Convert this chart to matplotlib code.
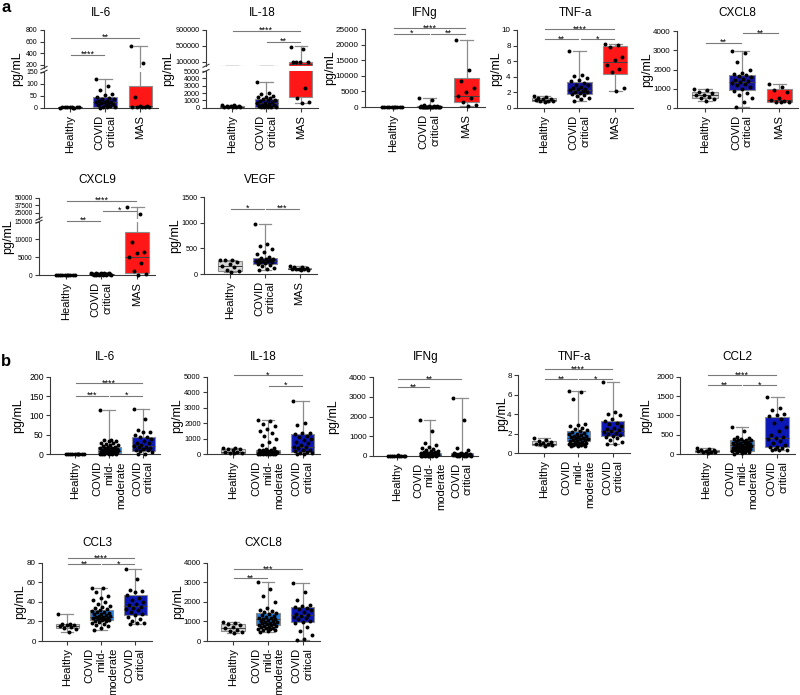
import matplotlib
matplotlib.use('Agg')
import matplotlib.pyplot as plt
from matplotlib.lines import Line2D
from matplotlib.transforms import blended_transform_factory

plt.rcParams['font.family'] = ['Liberation Sans', 'DejaVu Sans']

# ---------------- data ----------------
LABELS_A = ['Healthy', 'COVID\ncritical', 'MAS']
LABELS_B = ['Healthy', 'COVID\nmild-\nmoderate', 'COVID\ncritical']

# box stats: [min, q1, median, q3, max] per group
A_IL6_BOX = [[0.3, 0.7, 1.0, 1.3, 2.0], [0.5, 3, 22, 45, 118], [3, 4, 7, 92, 520]]
A_IL6_PTS = [[0.5, 0.8, 1, 1, 1.2, 1.5, 0.7, 0.9, 1.1, 2],
             [118, 92, 75, 58, 55, 45, 40, 38, 35, 30, 28, 25, 24, 22, 20, 18, 15, 12, 10, 8, 5, 3, 2, 0.5],
             [520, 230, 45, 8, 6, 5, 5, 4, 4, 3]]

A_IL18_BOX = [[50, 100, 150, 250, 350], [30, 60, 600, 1250, 3500], [600, 1500, 45000, 108000, 490000]]
A_IL18_PTS = [[350, 300, 250, 200, 180, 150, 120, 100, 80, 50],
              [3500, 2000, 1900, 1600, 1500, 1400, 1300, 1200, 1100, 1000, 900, 800, 700, 600, 500, 400, 300,
               250, 200, 150, 100, 80, 50, 30],
              [480000, 420000, 95000, 92000, 90000, 88000, 2700, 1300, 800, 600]]

A_IFNG_BOX = [[0, 5, 10, 20, 50], [0, 20, 80, 250, 3000], [300, 1700, 3400, 9200, 21500]]
A_IFNG_PTS = [[0, 5, 8, 10, 12, 15, 20, 25, 30, 40],
              [3000, 2200, 600, 400, 300, 250, 200, 150, 120, 100, 90, 80, 70, 60, 50, 40, 30, 20, 15, 10, 8, 5, 3, 1],
              [21500, 11800, 8300, 6200, 4800, 3600, 2900, 1700, 600, 300]]

A_TNF_BOX = [[0.8, 0.9, 1.05, 1.25, 1.5], [0.9, 1.8, 2.35, 3.3, 7.35], [2.2, 4.4, 5.9, 7.9, 8.2]]
A_TNF_PTS = [[1.5, 1.4, 1.3, 1.2, 1.1, 1.0, 0.95, 0.9, 0.85, 0.8],
             [7.35, 4.2, 4.1, 3.9, 3.6, 3.4, 3.2, 3.0, 2.9, 2.7, 2.6, 2.5, 2.4, 2.3, 2.2, 2.1, 2.0, 1.9, 1.8, 1.7,
              1.5, 1.3, 1.1, 0.9],
             [8.2, 8.1, 7.8, 6.6, 6.2, 5.5, 5.0, 4.6, 2.6, 2.2]]

A_CXCL8_BOX = [[380, 500, 650, 850, 1000], [50, 950, 1350, 1700, 2950], [300, 330, 400, 970, 1250]]
A_CXCL8_PTS = [[1000, 950, 850, 800, 700, 650, 550, 500, 450, 380],
               [2950, 2850, 2400, 2000, 1800, 1750, 1700, 1650, 1600, 1500, 1450, 1400, 1350, 1300, 1250, 1200,
                1100, 1000, 900, 800, 700, 500, 300, 50],
               [1250, 1100, 950, 850, 500, 400, 350, 330, 320, 300]]

A_CXCL9_BOX = [[10, 30, 50, 80, 100], [40, 150, 250, 420, 600], [100, 700, 5200, 12200, 35000]]
A_CXCL9_PTS = [[10, 20, 30, 40, 50, 60, 70, 80, 90, 100],
               [600, 550, 500, 480, 450, 420, 400, 380, 350, 330, 300, 280, 260, 240, 220, 200, 180, 160, 140,
                120, 100, 80, 60, 40],
               [35000, 22000, 9400, 6500, 6300, 5200, 3300, 1000, 400, 100]]

A_VEGF_BOX = [[30, 60, 160, 260, 280], [70, 200, 260, 320, 970], [80, 90, 100, 120, 160]]
A_VEGF_PTS = [[280, 270, 265, 240, 200, 160, 130, 80, 50, 30],
              [970, 580, 540, 480, 420, 380, 330, 310, 300, 290, 280, 270, 260, 250, 250, 240, 230, 220, 200,
               180, 150, 120, 100, 70],
              [160, 140, 130, 110, 100, 100, 95, 90, 85, 80]]

B_IL6_BOX = [[0, 0.4, 0.9, 1.5, 2], [0, 3, 8, 18, 115], [0, 9, 22, 45, 118]]
B_IL6_PTS = [[0, 0.3, 0.5, 0.7, 1, 1, 1.2, 1.5, 1.8, 2],
             [115, 38, 36, 35, 33, 30, 28, 27, 25, 23, 22, 20, 18, 17, 16, 15, 14, 13, 12, 11, 10, 10, 9, 8, 8,
              7, 6, 6, 5, 5, 4, 4, 3, 3, 2, 2, 1, 1, 0.5, 0],
             [118, 90, 62, 58, 57, 50, 45, 44, 40, 35, 30, 28, 25, 22, 20, 18, 16, 14, 12, 10, 8, 5, 2, 0]]

B_IL18_BOX = [[80, 100, 150, 330, 400], [5, 40, 130, 270, 2200], [20, 120, 480, 1330, 3450]]
B_IL18_PTS = [[400, 380, 350, 330, 300, 150, 120, 100, 90, 80],
              [2200, 2150, 1950, 1800, 1650, 1500, 1350, 1200, 1000, 800, 600, 420, 350, 300, 280, 260, 240,
               220, 200, 180, 160, 150, 140, 130, 120, 110, 100, 90, 80, 70, 60, 55, 50, 45, 40, 30, 25, 20, 10, 5],
              [3450, 2000, 1900, 1400, 1350, 1300, 1200, 1100, 1000, 900, 800, 700, 600, 500, 450, 400, 300,
               250, 200, 150, 100, 80, 50, 20]]

B_IFNG_BOX = [[0, 2, 4, 8, 12], [0, 8, 50, 150, 1800], [0, 10, 55, 130, 2950]]
B_IFNG_PTS = [[0, 1, 2, 3, 4, 5, 6, 8, 10, 12],
              [1800, 1250, 650, 550, 450, 380, 320, 280, 250, 220, 200, 180, 160, 150, 140, 130, 120, 110, 100,
               90, 80, 70, 60, 55, 50, 45, 40, 35, 30, 25, 20, 15, 12, 10, 8, 5, 3, 2, 1, 0],
              [2950, 1800, 380, 300, 150, 130, 120, 100, 90, 80, 70, 60, 50, 40, 35, 30, 25, 20, 15, 10, 8, 5, 2, 0]]

B_TNF_BOX = [[0.7, 0.85, 1.0, 1.3, 1.55], [0.7, 1.25, 1.6, 2.3, 6.4], [0.9, 1.8, 2.3, 3.3, 7.3]]
B_TNF_PTS = [[1.55, 1.4, 1.3, 1.2, 1.1, 1.0, 0.95, 0.9, 0.8, 0.7],
             [6.4, 6.3, 5.5, 3.0, 2.9, 2.8, 2.6, 2.5, 2.4, 2.3, 2.2, 2.1, 2.0, 2.0, 1.9, 1.8, 1.8, 1.7, 1.7, 1.6,
              1.6, 1.5, 1.5, 1.4, 1.4, 1.3, 1.3, 1.2, 1.2, 1.1, 1.1, 1.0, 1.0, 0.9, 0.9, 0.8, 0.8, 0.75, 0.7, 0.7],
             [7.3, 4.2, 4.0, 3.9, 3.5, 3.3, 3.1, 3.0, 2.8, 2.6, 2.5, 2.4, 2.3, 2.2, 2.1, 2.0, 1.9, 1.8, 1.7, 1.6,
              1.4, 1.2, 1.0, 0.9]]

B_CCL2_BOX = [[30, 50, 75, 100, 150], [20, 90, 230, 365, 700], [100, 200, 420, 970, 1480]]
B_CCL2_PTS = [[150, 130, 110, 100, 90, 80, 70, 60, 50, 30],
              [700, 600, 450, 420, 400, 390, 380, 370, 360, 350, 340, 320, 300, 290, 280, 270, 260, 250, 240,
               230, 220, 210, 200, 190, 180, 170, 160, 150, 140, 130, 120, 110, 100, 90, 80, 70, 60, 50, 40, 20],
              [1480, 1200, 1150, 1050, 1000, 980, 900, 800, 700, 600, 500, 450, 420, 400, 350, 300, 250, 200,
               180, 160, 140, 120, 110, 100]]

B_CCL3_BOX = [[9, 13, 15, 17, 28], [11, 21, 25, 31.5, 54], [17, 27, 36, 46.5, 74]]
B_CCL3_PTS = [[28, 17, 17, 16, 16, 15, 14, 13, 12, 9],
              [54, 54, 50, 46, 44, 42, 40, 38, 36, 35, 34, 33, 32, 31, 30, 30, 29, 28, 28, 27, 26, 26, 25, 25,
               24, 24, 23, 22, 22, 21, 21, 20, 20, 19, 18, 17, 16, 15, 13, 11],
              [74, 63, 52, 51, 50, 47, 44, 42, 40, 38, 37, 35, 34, 33, 32, 30, 28, 27, 25, 22, 20, 18, 18, 17]]

B_CXCL8_BOX = [[400, 500, 650, 850, 950], [450, 815, 1100, 1445, 3000], [50, 985, 1350, 1720, 2950]]
B_CXCL8_PTS = [[950, 900, 850, 800, 700, 650, 550, 500, 450, 400],
               [3000, 2650, 2300, 2000, 1700, 1600, 1550, 1500, 1450, 1400, 1350, 1300, 1250, 1200, 1150, 1100,
                1100, 1050, 1000, 1000, 950, 950, 900, 900, 850, 850, 800, 800, 780, 750, 720, 700, 680, 650,
                620, 600, 580, 550, 500, 450],
               [2950, 2500, 2100, 1850, 1800, 1750, 1700, 1650, 1600, 1500, 1400, 1350, 1300, 1250, 1200, 1100,
                1000, 950, 900, 700, 500, 300, 100, 50]]

# ---------------- style ----------------
GRAY = '#d6d6d6'
NAVY = '#15159e'
RED = '#ff1616'
MID = '#1f80e8'
DARK = '#0c18b6'
COLORS_A = [GRAY, NAVY, RED]
COLORS_B = [GRAY, MID, DARK]
AX_COL = '#3a3a3a'

W, H = 800, 695
fig = plt.figure(figsize=(W / 100, H / 100), dpi=100)


def fx(px):
    return px / W


def fy(py):
    return 1 - py / H


def jitter(n, width=0.56):
    return [(((i * 0.6180339) % 1.0) - 0.5) * width for i in range(n)]


def draw_panel(title, left, right, segs, box, pts, colors, labels, sigs, ylab_px, title_py, tfs=5.8):
    # segs: bottom -> top: (ylo, yhi, top_px, bottom_px, ticks)
    axes = []
    for k, (ylo, yhi, tp, bp, ticks) in enumerate(segs):
        ax = fig.add_axes([fx(left), fy(bp), (right - left) / W, (bp - tp) / H])
        ax.set_facecolor('none')
        stats = [dict(whislo=b[0], q1=b[1], med=b[2], q3=b[3], whishi=b[4], fliers=[]) for b in box]
        art = ax.bxp(stats, positions=[0, 1, 2], widths=0.68, patch_artist=True, showfliers=False,
                     capwidths=0.36,
                     boxprops=dict(edgecolor='#8c8c8c', linewidth=0.8),
                     whiskerprops=dict(color='#8c8c8c', linewidth=0.9),
                     capprops=dict(color='#8c8c8c', linewidth=0.9),
                     medianprops=dict(color='#404040', linewidth=0.7))
        for patch, c in zip(art['boxes'], colors):
            patch.set_facecolor(c)
        for g, vals in enumerate(pts):
            off = jitter(len(vals))
            xs = [g + o for o, v in zip(off, vals) if ylo <= v <= yhi]
            ys = [v for v in vals if ylo <= v <= yhi]
            ax.scatter(xs, ys, s=8, c='black', zorder=4, clip_on=False, linewidths=0)
        ax.set_xlim(-0.75, 2.5)
        ax.set_ylim(ylo, yhi)
        for s in ['top', 'right']:
            ax.spines[s].set_visible(False)
        for s in ['left', 'bottom']:
            ax.spines[s].set_color(AX_COL)
            ax.spines[s].set_linewidth(0.8)
        ax.set_yticks(ticks)
        ax.set_yticklabels([f'{t:g}' for t in ticks])
        ax.tick_params(axis='y', length=3, width=0.8, color=AX_COL, labelsize=tfs, pad=1.5)
        if k == 0:
            ax.set_xticks([0, 1, 2])
            ax.set_xticklabels(labels, rotation=90, fontsize=8, multialignment='right')
            ax.tick_params(axis='x', length=3, width=0.8, color=AX_COL, pad=2)
        else:
            ax.spines['bottom'].set_visible(False)
            ax.set_xticks([])
        axes.append(ax)

    bot_px = segs[0][3]
    top_px = segs[-1][2]
    # broken-axis marks
    if len(segs) > 1:
        for yb in [segs[0][2], segs[1][3]]:
            fig.add_artist(Line2D([fx(left - 3), fx(left + 3)], [fy(yb + 1.5), fy(yb - 1.5)],
                                  color=AX_COL, lw=0.8))
    ax = axes[-1]
    tr = blended_transform_factory(ax.transData, fig.transFigure)
    for i, j, lab, frac in sigs:
        ypx = bot_px - frac * (bot_px - top_px)
        ax.plot([i + 0.03, j - 0.03], [fy(ypx), fy(ypx)], transform=tr, color='#7a7a7a', lw=0.8,
                clip_on=False)
        ax.text((i + j) / 2, fy(ypx + 2.2), lab, transform=tr, ha='center', va='baseline', fontsize=6.5)
    fig.text(fx((left + right) / 2), fy(title_py), title, ha='center', va='center', fontsize=8.5)
    fig.text(fx(ylab_px), fy((bot_px + top_px) / 2), 'pg/mL', rotation=90, ha='center', va='center',
             fontsize=9)


# ---- panel a, row 1 ----
draw_panel('IL-6', 44, 158,
           [(0, 150, 71.7, 107.7, [0, 50, 100, 150]), (150, 800, 30, 67.9, [200, 400, 600, 800])],
           A_IL6_BOX, A_IL6_PTS, COLORS_A, LABELS_A,
           [(0, 2, '**', 0.897), (0, 1, '****', 0.68)], 17.5, 13, tfs=5)
draw_panel('IL-18', 206, 318,
           [(0, 5000, 71, 107.7, [0, 1000, 2000, 3000, 4000, 5000]),
            (5000, 900000, 30, 65.8, [100000, 500000, 900000])],
           A_IL18_BOX, A_IL18_PTS, COLORS_A, LABELS_A,
           [(0, 2, '****', 0.987), (1, 2, '**', 0.85)], 168.5, 13, tfs=5.2)
draw_panel('IFNg', 365, 485, [(0, 25000, 29, 107, [0, 5000, 10000, 15000, 20000, 25000])],
           A_IFNG_BOX, A_IFNG_PTS, COLORS_A, LABELS_A,
           [(0, 2, '****', 1.01), (0, 1, '*', 0.94), (1, 2, '**', 0.94)], 330, 13, tfs=5.9)
draw_panel('TNF-a', 517, 633, [(0, 10, 30, 108, [0, 2, 4, 6, 8, 10])],
           A_TNF_BOX, A_TNF_PTS, COLORS_A, LABELS_A,
           [(0, 2, '****', 1.01), (0, 1, '**', 0.88), (1, 2, '*', 0.88)], 496, 13)
draw_panel('CXCL8', 677, 798, [(0, 4000, 31, 108, [0, 1000, 2000, 3000, 4000])],
           A_CXCL8_BOX, A_CXCL8_PTS, COLORS_A, LABELS_A,
           [(0, 1, '**', 0.85), (1, 2, '**', 0.97)], 647, 13)

# ---- panel a, row 2 ----
draw_panel('CXCL9', 39, 155,
           [(0, 15000, 221.7, 275, [0, 5000, 10000, 15000]),
            (15000, 50000, 197.7, 218.7, [25000, 37500, 50000])],
           A_CXCL9_BOX, A_CXCL9_PTS, COLORS_A, LABELS_A,
           [(0, 2, '****', 0.96), (1, 2, '*', 0.83), (0, 1, '**', 0.70)], 8.5, 180, tfs=4.8)
draw_panel('VEGF', 204, 317, [(0, 1500, 197, 274, [0, 500, 1000, 1500])],
           A_VEGF_BOX, A_VEGF_PTS, COLORS_A, LABELS_A,
           [(0, 1, '*', 0.85), (1, 2, '***', 0.85)], 175, 180, tfs=5.2)

# ---- panel b, row 1 ----
draw_panel('IL-6', 50, 160, [(0, 200, 376.7, 454.3, [0, 50, 100, 150, 200])],
           B_IL6_BOX, B_IL6_PTS, COLORS_B, LABELS_B,
           [(0, 2, '****', 0.915), (0, 1, '***', 0.755), (1, 2, '*', 0.755)], 18, 357, tfs=6.2)
draw_panel('IL-18', 207, 320, [(0, 5000, 376.7, 454.3, [0, 1000, 2000, 3000, 4000, 5000])],
           B_IL18_BOX, B_IL18_PTS, COLORS_B, LABELS_B,
           [(0, 2, '*', 1.02), (1, 2, '*', 0.88)], 177, 357, tfs=5.5)
draw_panel('IFNg', 373, 478, [(0, 4000, 377.3, 455.7, [0, 1000, 2000, 3000, 4000])],
           B_IFNG_BOX, B_IFNG_PTS, COLORS_B, LABELS_B,
           [(0, 2, '**', 0.975), (0, 1, '**', 0.87)], 333, 357)
draw_panel('TNF-a', 518, 630, [(0, 8, 375, 453.3, [0, 2, 4, 6, 8])],
           B_TNF_BOX, B_TNF_PTS, COLORS_B, LABELS_B,
           [(0, 2, '****', 1.075), (0, 1, '**', 0.945), (1, 2, '*', 0.945)], 502, 357)
draw_panel('CCL2', 680, 795, [(0, 2000, 376.7, 454.3, [0, 500, 1000, 1500, 2000])],
           B_CCL2_BOX, B_CCL2_PTS, COLORS_B, LABELS_B,
           [(0, 2, '****', 1.02), (0, 1, '**', 0.89), (1, 2, '*', 0.89)], 646, 357)

# ---- panel b, row 2 ----
draw_panel('CCL3', 42, 152, [(0, 80, 562.7, 641, [0, 20, 40, 60, 80])],
           B_CCL3_BOX, B_CCL3_PTS, COLORS_B, LABELS_B,
           [(0, 2, '****', 1.056), (0, 1, '**', 0.98), (1, 2, '*', 0.98)], 20, 543)
draw_panel('CXCL8', 207, 320, [(0, 4000, 562.7, 641, [0, 1000, 2000, 3000, 4000])],
           B_CXCL8_BOX, B_CXCL8_PTS, COLORS_B, LABELS_B,
           [(0, 2, '***', 0.915), (0, 1, '**', 0.80)], 178, 543, tfs=5.6)

fig.text(fx(1), fy(8), 'a', fontweight='bold', fontsize=12, ha='left', va='center')
fig.text(fx(1), fy(361), 'b', fontweight='bold', fontsize=12, ha='left', va='center')

fig.savefig('out.png', dpi=100)
